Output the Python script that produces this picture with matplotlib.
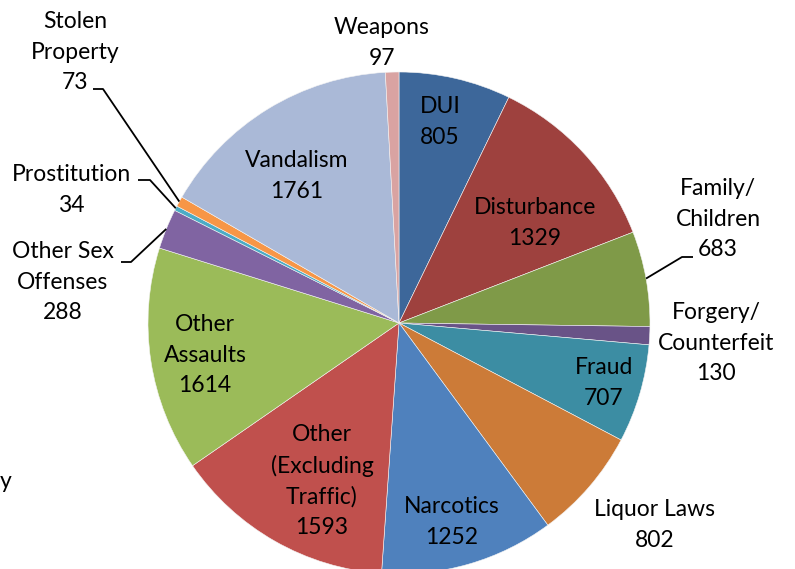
import numpy as np
import matplotlib
matplotlib.use("Agg")
import matplotlib.pyplot as plt

# data
categories = ["DUI", "Disturbance", "Family/\nChildren", "Forgery/\nCounterfeit", "Fraud",
              "Liquor Laws", "Narcotics", "Other\n(Excluding\nTraffic)", "Other\nAssaults",
              "Other Sex\nOffenses", "Prostitution", "Stolen\nProperty", "Vandalism", "Weapons"]
counts = [805, 1329, 683, 130, 707, 802, 1252, 1593, 1614, 288, 34, 73, 1761, 97]
colors = ["#3D679A", "#9E413E", "#7F9A48", "#695387", "#3C8DA3", "#CC7B38", "#4F81BD",
          "#C0504D", "#9BBB59", "#8064A2", "#4BACC6", "#F79646", "#AAB9D7", "#D9A3A2"]

W, H = 795, 569
cx, cy, R = 399, 323, 251   # pie centre / radius in pixels (y from top)

# label centres in pixels (y from top); leader = (elbow, end) or None
label_pos = {
    0: ((440, 122), None),
    1: ((535, 223), None),
    2: ((718, 219), ((682, 257), (693, 257))),
    3: ((716, 343), None),
    4: ((604, 383), None),
    5: ((655, 525), None),
    6: ((452, 522), None),
    7: ((322, 481), None),
    8: ((205, 355), None),
    9: ((63, 282), ((131, 262), (121, 262))),
    10: ((71, 190), ((150, 180), (138, 180))),
    11: ((75, 52), ((103, 89), (93, 89))),
    12: ((297, 176), None),
    13: ((382, 43), None),
}

plt.rcParams['font.family'] = ['Lato', 'DejaVu Sans']

fig = plt.figure(figsize=(W / 100, H / 100), dpi=100)
ax = fig.add_axes([0, 0, 1, 1])
ax.set_xlim(0, W)
ax.set_ylim(0, H)
ax.set_aspect('equal')
ax.axis('off')

wedges, _ = ax.pie(counts, colors=colors, startangle=90, counterclock=False,
                   center=(cx, H - cy), radius=R,
                   wedgeprops=dict(edgecolor='#f4f4f4', linewidth=0.4))
ax.set_xlim(0, W)
ax.set_ylim(0, H)

for i, (name, val) in enumerate(zip(categories, counts)):
    (tx, ty), leader = label_pos[i]
    ax.text(tx, H - ty, f"{name}\n{val}", ha='center', va='center',
            fontsize=16.5, linespacing=1.55, color='black')
    if leader is not None:
        w = wedges[i]
        mid = np.deg2rad((w.theta1 + w.theta2) / 2)
        sx = cx + R * np.cos(mid)
        sy = (H - cy) + R * np.sin(mid)
        (ex, ey), (fx, fy) = leader
        ax.plot([sx, ex, fx], [sy, H - ey, H - fy], color='black', lw=1.3,
                solid_capstyle='butt')

# cropped fragment of text at the left edge
ax.text(0, H - 482, "y", ha='left', va='center', fontsize=16.5)

fig.savefig("out.png", dpi=100)
